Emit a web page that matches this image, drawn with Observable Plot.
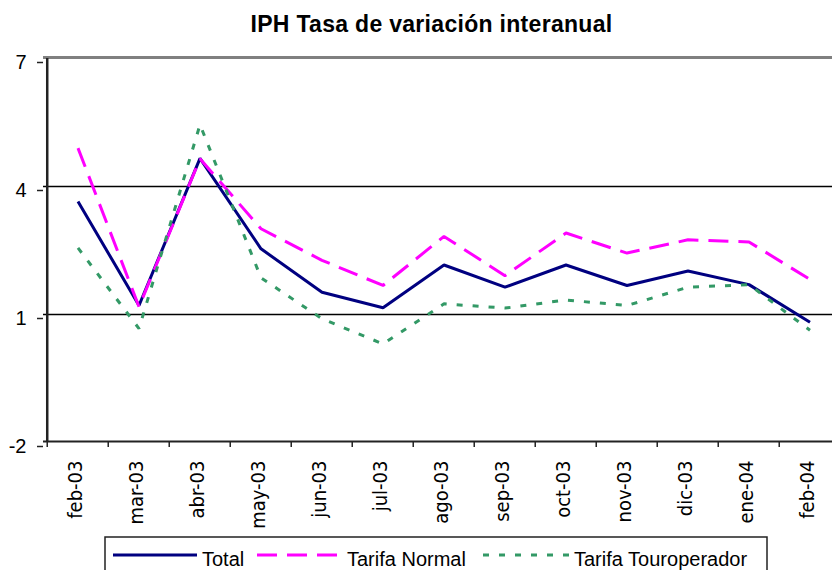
<!DOCTYPE html>
<html><head><meta charset="utf-8">
<script src="https://cdn.jsdelivr.net/npm/d3@7"></script>
<script src="https://cdn.jsdelivr.net/npm/@observablehq/plot@0.6"></script>
<style>
html,body{margin:0;padding:0;background:#fff;overflow:hidden;width:832px;height:570px}
#title{box-sizing:border-box;height:40px;padding-top:13px;padding-left:31px;text-align:center;font:bold 23px "Liberation Sans",Arial,sans-serif;line-height:1;letter-spacing:0.3px;color:#000;white-space:nowrap}
#chart svg,#legend svg{display:block}
</style></head><body>
<div id="title">IPH Tasa de variación interanual</div>
<div id="chart"></div>
<div id="legend"></div>
<script>
const months = ["feb-03","mar-03","abr-03","may-03","jun-03","jul-03","ago-03","sep-03","oct-03","nov-03","dic-03","ene-04","feb-04"];
const total = [3.65,1.21,4.66,2.54,1.52,1.16,2.16,1.64,2.16,1.68,2.02,1.70,0.82];
const tarifaNormal = [4.90,1.18,4.65,3.01,2.27,1.68,2.83,1.91,2.91,2.44,2.75,2.70,1.82];
const tarifaTouroperador = [2.56,0.67,5.45,1.86,0.90,0.31,1.25,1.15,1.34,1.21,1.64,1.70,0.63];
const seriesNames = ["Total","Tarifa Normal","Tarifa Touroperador"];
const yTicks = [-2,1,4,7];

const seriesValues = [total, tarifaNormal, tarifaTouroperador];
const seriesStyle = [
  {stroke:"#000080", strokeWidth:3, dash:null},
  {stroke:"#FF00FF", strokeWidth:3, dash:"20,10"},
  {stroke:"#339966", strokeWidth:3, dash:"6,10"}
];

const x0 = 43, x1 = 843;
const bw = (x1 - x0) / months.length;
const narrow = "'Liberation Sans Narrow','Arial Narrow','DejaVu Sans Condensed',sans-serif";

const lineMarks = seriesValues.map((vals, k) => Plot.line(months, {
  x: d => d, y: (d, i) => vals[i],
  stroke: seriesStyle[k].stroke, strokeWidth: seriesStyle[k].strokeWidth,
  strokeDasharray: seriesStyle[k].dash, strokeLinejoin: "miter", strokeLinecap: "butt"
}));

const chart = Plot.plot({
  width: 832, height: 490,
  marginTop: 18, marginBottom: 88, marginLeft: 43, marginRight: 0,
  style: {fontFamily: "'Liberation Sans', Arial, sans-serif", background: "white", color: "#000", overflow: "visible"},
  x: {type: "band", domain: months, range: [x0, x1], padding: 0, label: null},
  y: {domain: [-2, 7], label: null},
  marks: [
    Plot.ruleY([1, 4], {stroke: "#000", strokeWidth: 1.5}),
    Plot.ruleY([7], {stroke: "#808080", strokeWidth: 3, dy: -1}),
    Plot.ruleY([-2], {stroke: "#222", strokeWidth: 2, dy: -1}),
    Plot.ruleX([months[0]], {x: d => d, dx: -bw / 2, y1: -2, y2: 7, stroke: "#222", strokeWidth: 2.5}),
    Plot.axisY({ticks: yTicks, tickFormat: d => String(d), tickSize: 6, tickPadding: 11, fontSize: 20, dy: 4, stroke: "#222", strokeWidth: 1.5, label: null}),
    Plot.axisX({tickSize: 5, tickFormat: () => "", dx: -bw / 2, stroke: "#222", strokeWidth: 1.5, label: null}),
    Plot.axisX({tickSize: 0, tickRotate: -90, tickPadding: 18, fontSize: 20, fontFamily: narrow, dx: -2, label: null}),
    ...lineMarks
  ]
});
document.getElementById("chart").appendChild(chart);

// Legend (below the SVG)
const legendLayout = [
  {lx1: 113, lx2: 197, tx: 202},
  {lx1: 257, lx2: 341, tx: 347},
  {lx1: 483, lx2: 570, tx: 574}
];
const lg = d3.select("#legend").append("svg").attr("width", 832).attr("height", 40);
lg.append("rect").attr("x", 105).attr("y", 7).attr("width", 662).attr("height", 60)
  .attr("fill", "none").attr("stroke", "#222").attr("stroke-width", 1.5);
seriesNames.forEach((name, k) => {
  const L = legendLayout[k], s = seriesStyle[k];
  lg.append("line").attr("x1", L.lx1).attr("x2", L.lx2).attr("y1", 25).attr("y2", 25)
    .attr("stroke", s.stroke).attr("stroke-width", s.strokeWidth)
    .attr("stroke-dasharray", s.dash);
  lg.append("text").attr("x", L.tx).attr("y", 35.5).text(name)
    .attr("font-family", "'Liberation Sans', Arial, sans-serif").attr("font-size", 20).attr("fill", "#000");
});
</script>
</body></html>
